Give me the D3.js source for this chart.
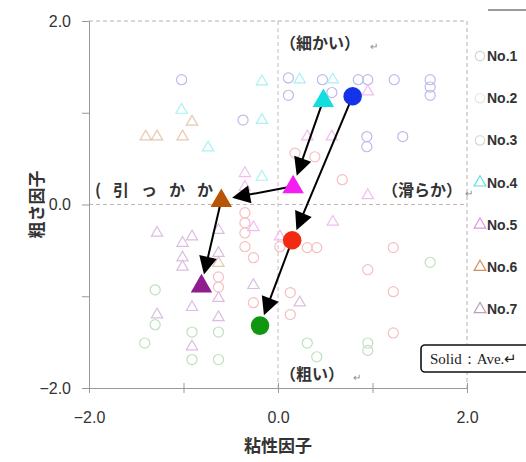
<!DOCTYPE html>
<html>
<head>
<meta charset="utf-8">
<script src="https://cdn.jsdelivr.net/npm/d3@7"></script>
<style>
  body { margin: 0; background: #fff; }
  svg { display: block; }
</style>
</head>
<body>
<svg id="chart" width="526" height="462"></svg>
<script>
// faded single measurements, [viscosity factor, roughness factor]
const no1 = [[-1.02,1.36],[0.11,1.38],[0.11,1.19],[0.47,1.36],[0.57,1.22],[0.85,1.36],[0.95,1.36],[1.23,1.36],
  [1.61,1.36],[1.61,1.28],[1.61,1.19],[-0.37,0.92],[0.94,0.74],[0.94,0.63],[1.32,0.74]];
const no2 = [[0.18,0.56],[0.39,0.52],[0.68,0.27],[-0.35,-0.09],[-0.35,-0.2],[-0.35,-0.31],[-0.35,-0.46],[-0.26,-0.58],
  [0.02,-0.46],[0.31,-0.47],[0.41,-0.47],[1.22,-0.47],[0.95,-0.71],[1.22,-0.95],[0.13,-0.96],[0.13,-1.2],
  [1.22,-1.4],[-0.63,-0.79],[-0.63,-0.9],[-0.26,-1.07]];
const no3 = [[1.61,-0.63],[-1.3,-0.93],[-1.3,-1.31],[-0.91,-1.39],[-1.41,-1.51],[-0.63,-1.39],[0.31,-1.51],
  [0.95,-1.51],[0.95,-1.59],[0.41,-1.66],[-0.91,-1.69],[-0.63,-1.69]];
const no4 = [[-0.17,1.34],[0.23,1.36],[0.58,1.36],[-1.02,1.03],[-0.17,0.92],[-0.74,0.62],[-0.17,0.3]];
const no5 = [[0.95,1.23],[0.31,0.74],[0.57,0.74],[-0.35,0.34],[-0.35,0.19],[0.95,0.1],[0.58,-0.19],[0.02,-0.35],[-0.26,-0.25]];
const no6 = [[-0.91,0.9],[-1.4,0.74],[-1.28,0.74],[-1.01,0.74],[-0.63,-0.64]];
const no7 = [[-1.28,-0.31],[-1.01,-0.42],[-0.91,-0.35],[-1.01,-0.58],[-1.01,-0.68],[-0.63,-0.28],[-0.63,-0.53],
  [-0.63,-1.02],[-0.91,-1.12],[-0.26,-0.88],[0.23,-1.07],[-1.28,-1.2],[-0.63,-1.23],[-0.91,-1.55]];

const seriesNames = ['No.1','No.2','No.3','No.4','No.5','No.6','No.7'];
const seriesShapes = ['circle','circle','circle','triangle','triangle','triangle','triangle'];
const seriesData = [no1, no2, no3, no4, no5, no6, no7];

// averages (solid marks)
const aveValues = [[0.79,1.18],[0.15,-0.39],[-0.19,-1.32],[0.48,1.14],[0.16,0.2],[-0.6,0.05],[-0.81,-0.88]];
// arrows between averages, by series index
const arrowLinks = [[0,1],[1,2],[3,4],[4,5],[5,6]];

const tickValues = [-2,-1,0,1,2];
const tickLabels = {'-2':'\u22122.0','0':'0.0','2':'2.0'};

const fadedColor = ['#bcbcec','#f5c0c0','#bfe0bf','#a8f2f2','#f2bcf2','#e6c9b0','#dcbde2'];
const solidColor = ['#1432e8','#f22a12','#119611','#12dede','#f41ef0','#b85406','#8e1e90'];
const legendColor = ['#d4d4d4','#e6e6e6','#d8d8d8','#5fe0e0','#e094ea','#d09060','#c29cc8'];

const svg = d3.select('#chart');
const x = d3.scaleLinear().domain([-2,2]).range([89,467]);
const y = d3.scaleLinear().domain([-2,2]).range([388,21]);

const jp = '"Noto Sans CJK JP", "Noto Sans", sans-serif';
const sym = (shape, size) => d3.symbol().type(shape === 'circle' ? d3.symbolCircle : d3.symbolTriangle).size(size);

// frame: dashed top / right, dashed zero lines
const dash = '4,3';
svg.append('line').attr('x1', x(-2)).attr('x2', x(2)).attr('y1', y(2)).attr('y2', y(2))
  .attr('stroke', '#b0b0b0').attr('stroke-dasharray', dash);
svg.append('line').attr('x1', x(2)).attr('x2', x(2)).attr('y1', y(2)).attr('y2', y(-2))
  .attr('stroke', '#b0b0b0').attr('stroke-dasharray', dash);
svg.append('line').attr('x1', x(-2)).attr('x2', x(2)).attr('y1', y(0)).attr('y2', y(0))
  .attr('stroke', '#c4b4b8').attr('stroke-dasharray', dash);
svg.append('line').attr('x1', x(0)).attr('x2', x(0)).attr('y1', y(2)).attr('y2', y(-2))
  .attr('stroke', '#c8b8bc').attr('stroke-dasharray', dash);

// axes
const yAxis = svg.append('g').attr('transform', `translate(${x(-2)},0)`)
  .call(d3.axisLeft(y).tickValues(tickValues).tickSize(7).tickFormat(d => tickLabels[d] || ''));
const xAxis = svg.append('g').attr('transform', `translate(0,${y(-2)})`)
  .call(d3.axisBottom(x).tickValues(tickValues).tickSize(5).tickFormat(d => tickLabels[d] || ''));
[xAxis, yAxis].forEach(a => {
  a.select('.domain').attr('stroke', '#999');
  a.selectAll('.tick line').attr('stroke', '#999');
  a.selectAll('.tick text').attr('fill', '#333').style('font-family', '"Liberation Sans", Arial, sans-serif').style('font-size', '16px');
});
yAxis.selectAll('.tick text').attr('x', -18);
xAxis.selectAll('.tick line').attr('y1', -5);
xAxis.selectAll('.tick text').attr('y', 24);

// axis titles
svg.append('text').attr('x', x(0)).attr('y', 452).attr('text-anchor', 'middle')
  .style('font-family', jp).style('font-size', '17px').style('font-weight', 'bold').attr('fill', '#333')
  .text('粘性因子');
svg.append('text').attr('transform', `translate(43,${y(0)}) rotate(-90)`).attr('text-anchor', 'middle')
  .style('font-family', jp).style('font-size', '17px').style('font-weight', 'bold').attr('fill', '#333')
  .text('粗さ因子');

// faded points
seriesData.forEach((pts, i) => {
  svg.append('g').selectAll('path').data(pts).enter().append('path')
    .attr('transform', d => `translate(${x(d[0])},${y(d[1])})`)
    .attr('d', sym(seriesShapes[i], seriesShapes[i] === 'circle' ? 80 : 55))
    .attr('fill', 'none')
    .attr('stroke', fadedColor[i])
    .attr('stroke-width', 1.2);
});

// region labels
const lab = (tx, ty, t, anchor, extra) => {
  const el = svg.append('text').attr('x', tx).attr('y', ty).attr('text-anchor', anchor || 'start')
    .style('font-family', jp).style('font-size', '16px').style('font-weight', 'bold').attr('fill', '#333')
    .attr('dominant-baseline', 'central').text(t);
  if (extra) extra(el);
  return el;
};
const mark = (tx, ty) => svg.append('text').attr('x', tx).attr('y', ty + 3).attr('dominant-baseline', 'central')
  .style('font-family', jp).style('font-size', '10px').attr('fill', '#888').text('↵');
lab(280, 42, '（細かい）'); mark(370, 42);
lab(280, 373, '（粗い）'); mark(353, 373);
lab(462, 189, '（滑らか）', 'end'); mark(465, 189);
lab(95, 189, '(引っかか', 'start', el => el.style('letter-spacing', '12px'));

// arrows between averages
const arrowG = svg.append('g');
arrowLinks.forEach(([a, b]) => {
  const x1 = x(aveValues[a][0]), y1 = y(aveValues[a][1]);
  const x2 = x(aveValues[b][0]), y2 = y(aveValues[b][1]);
  const len = Math.hypot(x2 - x1, y2 - y1);
  const ux = (x2 - x1) / len, uy = (y2 - y1) / len;
  const tipX = x2 - ux * 11, tipY = y2 - uy * 11;
  const headL = 18, headW = 9;
  const bx = tipX - ux * headL, by = tipY - uy * headL;
  arrowG.append('line').attr('x1', x1).attr('y1', y1).attr('x2', bx + ux * 2).attr('y2', by + uy * 2)
    .attr('stroke', '#000').attr('stroke-width', 2);
  arrowG.append('path')
    .attr('d', `M${tipX},${tipY}L${bx - uy * headW},${by + ux * headW}L${bx + uy * headW},${by - ux * headW}Z`)
    .attr('fill', '#000');
});

// solid average marks
svg.append('g').selectAll('path').data(aveValues).enter().append('path')
  .attr('transform', (d, i) => `translate(${x(d[0])},${y(d[1]) + (seriesShapes[i] === 'triangle' ? 1 : 0)})`)
  .attr('d', (d, i) => sym(seriesShapes[i], seriesShapes[i] === 'circle' ? 270 : 200)())
  .attr('fill', (d, i) => solidColor[i]);

// legend
const legend = svg.append('g');
seriesNames.forEach((name, i) => {
  const ly = 56 + i * 42.2;
  legend.append('path').attr('transform', `translate(480,${ly})`)
    .attr('d', sym(seriesShapes[i], seriesShapes[i] === 'circle' ? 70 : 60)())
    .attr('fill', 'none').attr('stroke', legendColor[i]).attr('stroke-width', 1.2);
  legend.append('text').attr('x', 487).attr('y', ly).attr('dominant-baseline', 'central')
    .style('font-family', '"Liberation Sans", Arial, sans-serif')
    .style('font-size', '14px').style('font-weight', 'bold').attr('fill', '#333').text(name);
});
legend.append('line').attr('x1', 488).attr('x2', 526).attr('y1', 10).attr('y2', 10)
  .attr('stroke', '#9a9a9a').attr('stroke-width', 2);
legend.append('rect').attr('x', 421).attr('y', 345).attr('width', 112).attr('height', 27).attr('rx', 4)
  .attr('fill', '#fff').attr('stroke', '#111').attr('stroke-width', 1.6);
legend.append('text').attr('x', 430).attr('y', 359).attr('dominant-baseline', 'central')
  .style('font-family', '"Liberation Serif", "Times New Roman", serif').style('font-size', '15px').attr('fill', '#222')
  .text('Solid：Ave.↵');
</script>
</body>
</html>
